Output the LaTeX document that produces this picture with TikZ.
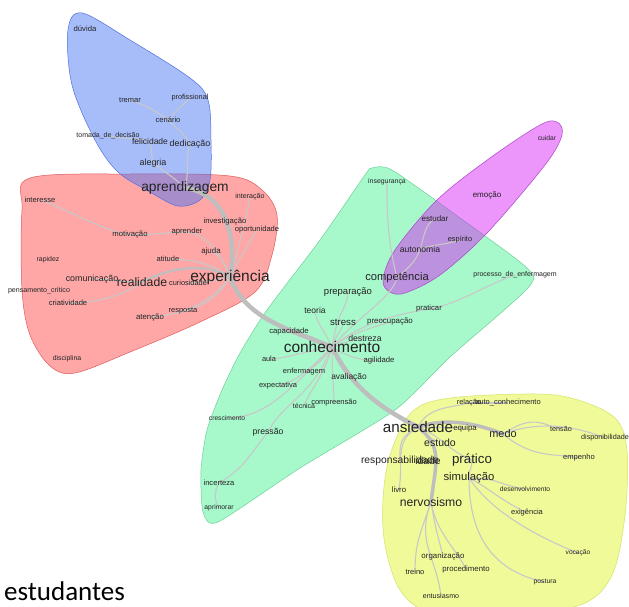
\documentclass[tikz,border=0pt]{standalone}
\usepackage{fontspec}
\setmainfont{Liberation Sans}
\newfontfamily\calibfont{Carlito}
\pgfdeclarelayer{regions}
\pgfdeclarelayer{links}
\pgfsetlayers{regions,links,main}
\definecolor{redF}{RGB}{255,60,60}
\definecolor{redD}{RGB}{225,90,90}
\definecolor{bluF}{RGB}{60,110,245}
\definecolor{bluD}{RGB}{80,110,220}
\definecolor{grnF}{RGB}{60,240,140}
\definecolor{grnD}{RGB}{110,210,150}
\definecolor{purF}{RGB}{215,20,245}
\definecolor{purD}{RGB}{170,70,200}
\definecolor{ylwF}{RGB}{225,245,30}
\definecolor{ylwD}{RGB}{215,225,100}
\definecolor{lnkC}{RGB}{200,200,200}
\definecolor{trkC}{RGB}{190,190,190}
\definecolor{txtC}{RGB}{35,35,35}
\tikzset{
  wd/.style={font=\fontsize{#1}{#1}\selectfont, text=txtC, inner sep=0pt},
  region/.style={line width=0.5pt, fill opacity=0.45},
  lnk/.style={draw=lnkC, line width=1.1pt},
  trunk/.style={draw=trkC, line width=4.5pt},
  midlnk/.style={draw=trkC, line width=2.2pt},
}
\begin{document}
\begin{tikzpicture}[x=1pt,y=-1pt]
\useasboundingbox (0,0) rectangle (629,607);

\begin{pgfonlayer}{regions}
\fill[white] (0,0) rectangle (629,607);
% red
\draw[region, draw=redD, fill=redF] plot[smooth cycle, tension=0.55] coordinates {
 (30,178) (130,174) (230,176) (262,190) (277,215) (272,255) (255,292) (200,322)
 (130,352) (75,373) (50,366) (30,335) (22,290) (22,210)};
% blue
\draw[region, draw=bluD, fill=bluF] plot[smooth cycle, tension=0.55] coordinates {
 (82,13) (130,40) (190,78) (208,100) (211,140) (210,180) (200,200) (178,206)
 (150,192) (118,172) (95,140) (72,85) (68,30)};
% green
\draw[region, draw=grnD, fill=grnF] plot[smooth cycle, tension=0.4] coordinates {
 (372,168) (392,170) (460,218) (527,268) (528,288) (450,357) (395,410) (300,468)
 (218,522) (203,512) (201,470) (207,430) (222,390) (240,353) (267,310) (320,240) (365,175)};
% purple
\draw[region, draw=purD, fill=purF] plot[smooth cycle, tension=0.55] coordinates {
 (390,292) (383,280) (395,250) (437,200) (490,158) (540,125) (557,122) (562,135)
 (545,165) (487,233) (440,275) (405,293)};
% yellow
\draw[region, draw=ylwD, fill=ylwF] plot[smooth cycle, tension=0.55] coordinates {
 (412,412) (450,398) (537,394) (578,400) (615,418) (627,450) (625,515) (612,575)
 (580,605) (500,615) (430,612) (400,590) (385,545) (383,500) (390,455)};
\end{pgfonlayer}

% ---------- words ----------
% blue cluster
\node[wd=7.7] (duvida) at (85,29) {dúvida};
\node[wd=7.5] (tremar) at (130,100) {tremar};
\node[wd=7.3] (profissional) at (190,98) {profissional};
\node[wd=7.6] (cenario) at (168,120) {cenário};
\node[wd=7.0] (tomada) at (108,136) {tomada\_de\_decisão};
\node[wd=8.5] (felicidade) at (150,141) {felicidade};
\node[wd=8.9] (dedicacao) at (190,144) {dedicação};
\node[wd=8.9] (alegria) at (153,163) {alegria};
% red cluster
\node[wd=13.8] (aprendizagem) at (185,188) {aprendizagem};
\node[wd=7.6] (interesse) at (40,200) {interesse};
\node[wd=7.1] (interacao) at (250,197) {interação};
\node[wd=7.7] (investigacao) at (225,222) {investigação};
\node[wd=7.6] (oportunidade) at (257,230) {oportunidade};
\node[wd=7.7] (aprender) at (187,232) {aprender};
\node[wd=7.7] (motivacao) at (130,235) {motivação};
\node[wd=7.9] (ajuda) at (211,251) {ajuda};
\node[wd=6.9] (rapidez) at (48,260) {rapidez};
\node[wd=7.5] (atitude) at (168,259) {atitude};
\node[wd=8.9] (comunicacao) at (92,279) {comunicação};
\node[wd=12.2] (realidade) at (142,282) {realidade};
\node[wd=7.4] (curiosidade) at (188,283) {curiosidade};
\node[wd=15.5] (experiencia) at (230,277) {experiência};
\node[wd=7.1] (pensamento) at (39,291) {pensamento\_crítico};
\node[wd=7.6] (criatividade) at (68,303) {criatividade};
\node[wd=7.5] (resposta) at (183,311) {resposta};
\node[wd=7.8] (atencao) at (150,318) {atenção};
\node[wd=6.9] (disciplina) at (67,359) {disciplina};
% green cluster
\node[wd=6.9] (inseguranca) at (387,182) {insegurança};
\node[wd=11.2] (competencia) at (397,278) {competência};
\node[wd=9.5] (preparacao) at (348,292) {preparação};
\node[wd=8.5] (teoria) at (315,310) {teoria};
\node[wd=7.7] (praticar) at (429,309) {praticar};
\node[wd=9.7] (stress) at (343,322) {stress};
\node[wd=7.9] (preocupacao) at (390,322) {preocupação};
\node[wd=7.7] (capacidade) at (289,332) {capacidade};
\node[wd=8.7] (destreza) at (365,338) {destreza};
\node[wd=15.5] (conhecimento) at (332,347) {conhecimento};
\node[wd=7.0] (processo) at (515,275) {processo\_de\_enfermagem};
\node[wd=7.4] (aula) at (269,359) {aula};
\node[wd=7.7] (agilidade) at (379,361) {agilidade};
\node[wd=7.5] (enfermagem) at (304,372) {enfermagem};
\node[wd=8.4] (avaliacao) at (349,377) {avaliação};
\node[wd=7.5] (expectativa) at (278,386) {expectativa};
\node[wd=7.0] (tecnica) at (304,406) {técnica};
\node[wd=7.5] (compreensao) at (334,403) {compreensão};
\node[wd=6.7] (crescimento) at (227,418) {crescimento};
\node[wd=8.7] (pressao) at (268,432) {pressão};
\node[wd=7.6] (incerteza) at (219,483) {incerteza};
\node[wd=6.8] (aprimorar) at (219,508) {aprimorar};
% purple cluster
\node[wd=6.7] (cuidar) at (547,138) {cuidar};
\node[wd=8.0] (emocao) at (487,195) {emoção};
\node[wd=8.0] (estudar) at (435,219) {estudar};
\node[wd=7.4] (espirito) at (460,240) {espírito};
\node[wd=8.6] (autonomia) at (420,249) {autonomia};
% yellow cluster
\node[wd=7.4] (relacao) at (469,403) {relação};
\node[wd=7.5] (autoconh) at (508,403) {auto\_conhecimento};
\node[wd=15.2] (ansiedade) at (418,427) {ansiedade};
\node[wd=7.8] (equipa) at (465,428) {equipa};
\node[wd=10.9] (medo) at (503,434) {medo};
\node[wd=7.2] (tensao) at (561,429) {tensão};
\node[wd=7.2] (disponibilidade) at (605,438) {disponibilidade};
\node[wd=10.5] (estudo) at (440,443) {estudo};
\node[wd=10.3] (responsabilidade) at (400,461) {responsabilidade};
\node[wd=10.3] (idade) at (428,461) {idade};
\node[wd=13.3] (pratico) at (472,460) {prático};
\node[wd=11.3] (simulacao) at (469,478) {simulação};
\node[wd=7.8] (livro) at (399,490) {livro};
\node[wd=6.7] (desenvolvimento) at (525,489) {desenvolvimento};
\node[wd=12.2] (nervosismo) at (431,502) {nervosismo};
\node[wd=7.5] (exigencia) at (527,513) {exigência};
\node[wd=6.6] (vocacao) at (578,553) {vocação};
\node[wd=7.9] (organizacao) at (443,556) {organização};
\node[wd=7.5] (treino) at (415,572) {treino};
\node[wd=7.8] (procedimento) at (466,569) {procedimento};
\node[wd=6.8] (postura) at (545,582) {postura};
\node[wd=7.1] (entusiasmo) at (441,596) {entusiasmo};
\node[wd=7.6] (empenho) at (579,458) {empenho};
% caption
\node[font=\calibfont\fontsize{27}{29}\selectfont, inner sep=0pt, anchor=base west, text=black] (estudantes) at (4,600) {estudantes};

% ---------- connectors ----------
\begin{pgfonlayer}{links}
% blue
\draw[lnk] (aprendizagem.center) .. controls +(-10,-10) and +(10,8) .. (alegria.center);
\draw[lnk] (aprendizagem.center) .. controls +(5,-20) and +(-5,15) .. (dedicacao.center);
\draw[lnk] (dedicacao.center) .. controls +(-5,-10) and +(8,8) .. (cenario.center);
\draw[lnk] (cenario.center) .. controls +(-10,-8) and +(15,5) .. (tremar.center);
\draw[lnk] (cenario.center) .. controls +(8,-10) and +(-8,8) .. (profissional.center);
\draw[lnk] (alegria.center) .. controls +(-2,-10) and +(2,10) .. (felicidade.center);
\draw[lnk] (felicidade.center) .. controls +(-15,-3) and +(15,3) .. (tomada.center);
% red
\draw[lnk] (experiencia.center) .. controls +(8,-20) and +(5,10) .. (investigacao.center);
\draw[lnk] (experiencia.center) .. controls +(10,-20) and +(-5,8) .. (oportunidade.center);
\draw[lnk] (experiencia.center) .. controls +(12,-40) and +(-3,15) .. (interacao.center);
\draw[lnk] (experiencia.center) .. controls +(-5,-15) and +(10,5) .. (ajuda.center);
\draw[lnk] (experiencia.center) .. controls +(-10,-25) and +(20,3) .. (aprender.center);
\draw[lnk] (aprender.center) .. controls +(-20,0) and +(20,0) .. (motivacao.center);
\draw[lnk] (motivacao.center) .. controls +(-30,-5) and +(30,10) .. (interesse.center);
\draw[lnk] (experiencia.center) .. controls +(-20,-15) and +(20,0) .. (atitude.center);
\draw[lnk] (experiencia.center) .. controls +(-15,3) and +(15,0) .. (curiosidade.center);
\draw[midlnk] (experiencia.center) .. controls +(-25,-15) and +(30,-15) .. (realidade.center);
\draw[lnk] (realidade.center) .. controls +(-20,0) and +(20,0) .. (comunicacao.center);
\draw[lnk] (realidade.center) .. controls +(-20,15) and +(25,0) .. (criatividade.center);
\draw[lnk] (experiencia.center) .. controls +(-15,20) and +(15,-5) .. (resposta.center);
\draw[lnk] (experiencia.center) .. controls +(-20,35) and +(25,-5) .. (atencao.center);
% green
\draw[lnk] (conhecimento.center) .. controls +(-15,-8) and +(15,0) .. (capacidade.center);
\draw[lnk] (conhecimento.center) .. controls +(-10,-20) and +(0,10) .. (teoria.center);
\draw[lnk] (conhecimento.center) .. controls +(5,-15) and +(0,8) .. (stress.center);
\draw[lnk] (conhecimento.center) .. controls +(5,-35) and +(0,15) .. (preparacao.center);
\draw[lnk] (conhecimento.center) .. controls +(25,-30) and +(-5,20) .. (competencia.center);
\draw[lnk] (competencia.center) .. controls +(-10,-40) and +(0,30) .. (inseguranca.center);
\draw[lnk] (conhecimento.center) .. controls +(20,-15) and +(-15,5) .. (preocupacao.center);
\draw[lnk] (conhecimento.center) .. controls +(30,-25) and +(-30,5) .. (praticar.center);
\draw[lnk] (praticar.center) .. controls +(30,-5) and +(-30,10) .. (processo.center);
\draw[lnk] (conhecimento.center) .. controls +(15,-5) and +(-10,0) .. (destreza.center);
\draw[lnk] (conhecimento.center) .. controls +(15,10) and +(-15,0) .. (agilidade.center);
\draw[lnk] (conhecimento.center) .. controls +(-30,5) and +(15,0) .. (aula.center);
\draw[lnk] (conhecimento.center) .. controls +(-10,15) and +(10,-5) .. (enfermagem.center);
\draw[lnk] (conhecimento.center) .. controls +(5,15) and +(-5,-5) .. (avaliacao.center);
\draw[lnk] (conhecimento.center) .. controls +(-20,20) and +(20,-5) .. (expectativa.center);
\draw[lnk] (conhecimento.center) .. controls +(-8,30) and +(5,-15) .. (tecnica.center);
\draw[lnk] (conhecimento.center) .. controls +(0,30) and +(0,-15) .. (compreensao.center);
\draw[lnk] (conhecimento.center) .. controls +(-40,40) and +(40,0) .. (crescimento.center);
\draw[lnk] (conhecimento.center) .. controls +(-20,50) and +(15,-30) .. (pressao.center);
\draw[lnk] (pressao.center) .. controls +(-20,25) and +(25,-15) .. (incerteza.center);
\draw[lnk] (incerteza.center) .. controls +(-5,8) and +(-5,-8) .. (aprimorar.center);
\draw[lnk] (competencia.center) .. controls +(10,-10) and +(-5,15) .. (autonomia.center);
\draw[lnk] (autonomia.center) .. controls +(5,-15) and +(-10,5) .. (estudar.center);
\draw[lnk] (autonomia.center) .. controls +(15,-5) and +(-15,5) .. (espirito.center);
% yellow
\draw[lnk] (ansiedade.center) .. controls +(10,-20) and +(-20,5) .. (relacao.center);
\draw[lnk] (relacao.center) -- (autoconh.center);
\draw[lnk] (ansiedade.center) .. controls +(20,0) and +(-20,0) .. (equipa.center);
\draw[lnk] (ansiedade.center) .. controls +(10,10) and +(-10,-5) .. (estudo.center);
\draw[lnk] (ansiedade.center) .. controls +(-20,10) and +(0,-15) .. (responsabilidade.center);
\draw[lnk] (ansiedade.center) .. controls +(-25,15) and +(5,-30) .. (livro.center);
\draw[lnk] (ansiedade.center) .. controls +(25,10) and +(-25,-10) .. (pratico.center);
\draw[lnk] (pratico.center) .. controls +(0,10) and +(0,-10) .. (simulacao.center);
\draw[lnk] (simulacao.center) .. controls +(30,0) and +(-30,-5) .. (desenvolvimento.center);
\draw[lnk] (simulacao.center) .. controls +(20,10) and +(-30,-15) .. (exigencia.center);
\draw[lnk] (simulacao.center) .. controls +(20,30) and +(-50,-20) .. (vocacao.center);
\draw[lnk] (simulacao.center) .. controls +(0,60) and +(-50,-10) .. (postura.center);
\draw[lnk] (medo.center) .. controls +(30,-20) and +(-20,-5) .. (tensao.center);
\draw[lnk] (medo.center) .. controls +(30,25) and +(-25,-5) .. (empenho.center);
\draw[lnk] (medo.center) .. controls +(40,-15) and +(-25,-10) .. (disponibilidade.center);
\draw[lnk] (nervosismo.center) .. controls +(5,30) and +(-5,-20) .. (organizacao.center);
\draw[lnk] (nervosismo.center) .. controls +(-10,30) and +(0,-30) .. (treino.center);
\draw[lnk] (nervosismo.center) .. controls +(5,30) and +(-10,-20) .. (procedimento.center);
\draw[lnk] (nervosismo.center) .. controls +(-15,40) and +(-5,-40) .. (entusiasmo.center);
% trunk
\draw[trunk] (aprendizagem.center) .. controls +(40,5) and +(8,-40) .. (experiencia.center);
\draw[trunk] (experiencia.center) .. controls +(15,40) and +(-50,-20) .. (conhecimento.center);
\draw[trunk] (conhecimento.center) .. controls +(20,40) and +(-40,-20) .. (ansiedade.center);
\draw[midlnk, line width=3.5pt] (ansiedade.center) .. controls +(30,-10) and +(-25,-10) .. (medo.center);
\draw[midlnk, line width=3.5pt] (ansiedade.center) .. controls +(25,20) and +(5,-40) .. (nervosismo.center);
\end{pgfonlayer}
\end{tikzpicture}
\end{document}
